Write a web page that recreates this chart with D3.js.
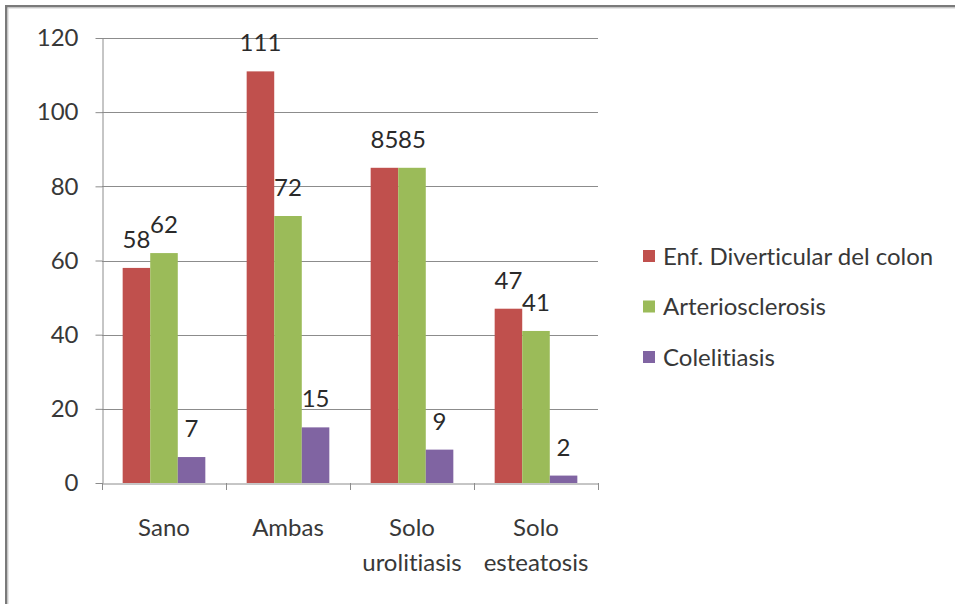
<!DOCTYPE html>
<html>
<head>
<meta charset="utf-8">
<script src="https://cdn.jsdelivr.net/npm/d3@7"></script>
<style>
  html, body { margin: 0; padding: 0; background: #fff; }
  svg { display: block; font-family: Lato, "Noto Sans", sans-serif; font-variant-ligatures: none; }
</style>
</head>
<body>
<svg id="chart" width="955" height="604"></svg>
<script>
// Categories (two-line labels split by "\n")
const categories = ["Sano", "Ambas", "Solo\nurolitiasis", "Solo\nesteatosis"];
const seriesNames = ["Enf. Diverticular del colon", "Arteriosclerosis", "Colelitiasis"];
const seriesColors = ["#C0504D", "#9BBB59", "#8064A2"];
const enfDiverticular = [58, 111, 85, 47];
const arteriosclerosis = [62, 72, 85, 41];
const colelitiasis = [7, 15, 9, 2];
const yTicks = [0, 20, 40, 60, 80, 100, 120];

const seriesValues = [enfDiverticular, arteriosclerosis, colelitiasis];

const svg = d3.select("#chart");
const W = 955, H = 604;
const FONT = "24px";

// frame edges (top and left)
svg.append("rect").attr("x", 5).attr("y", 5).attr("width", W).attr("height", 2.5).attr("fill", "#7a7a7a");
svg.append("rect").attr("x", 5).attr("y", 7.5).attr("width", W).attr("height", 1).attr("fill", "#d0d0d0");
svg.append("rect").attr("x", 5).attr("y", 5).attr("width", 2.5).attr("height", H).attr("fill", "#7a7a7a");
svg.append("rect").attr("x", 7.5).attr("y", 7.5).attr("width", 1).attr("height", H).attr("fill", "#d0d0d0");

const plot = { left: 102, right: 598, top: 38, bottom: 483 };

const x0 = d3.scaleBand()
  .domain(categories)
  .range([plot.left, plot.right])
  .paddingInner(0).paddingOuter(0);

// gap width 150% of a bar: 3 bars + 1.5 bar widths of spacing per category
const x1 = d3.scaleBand()
  .domain(d3.range(seriesNames.length))
  .range([0, x0.bandwidth()])
  .paddingInner(0)
  .paddingOuter(0.75);

const y = d3.scaleLinear().domain([0, 120]).range([plot.bottom, plot.top]);

// horizontal gridlines
svg.append("g")
  .selectAll("line")
  .data(yTicks.filter(d => d > 0))
  .join("line")
  .attr("x1", plot.left).attr("x2", plot.right)
  .attr("y1", d => Math.round(y(d)) + 0.5).attr("y2", d => Math.round(y(d)) + 0.5)
  .attr("stroke", "#8c8c8c").attr("stroke-width", 1);

// y axis
const yAxis = svg.append("g")
  .attr("transform", `translate(${plot.left + 0.5},0)`)
  .call(d3.axisLeft(y).tickValues(yTicks).tickSize(7).tickPadding(17).tickSizeOuter(0));
yAxis.select(".domain").attr("stroke", "#8c8c8c");
yAxis.selectAll(".tick line").attr("stroke", "#8c8c8c");
yAxis.selectAll(".tick text")
  .attr("fill", "#383838")
  .style("font-size", FONT)
  .style("font-family", "Lato, sans-serif");

// bars
const groups = svg.append("g")
  .selectAll("g")
  .data(categories)
  .join("g")
  .attr("transform", d => `translate(${x0(d)},0)`);

groups.selectAll("rect")
  .data((d, i) => seriesValues.map((vals, s) => ({ s, v: vals[i] })))
  .join("rect")
  .attr("x", d => x1(d.s))
  .attr("width", x1.bandwidth())
  .attr("y", d => y(d.v))
  .attr("height", d => y(0) - y(d.v))
  .attr("fill", d => seriesColors[d.s]);

// value labels
groups.selectAll("text.val")
  .data((d, i) => seriesValues.map((vals, s) => ({ s, v: vals[i] })))
  .join("text")
  .attr("class", "val")
  .attr("x", d => x1(d.s) + x1.bandwidth() / 2)
  .attr("y", d => y(d.v) - 20)
  .attr("text-anchor", "middle")
  .attr("fill", "#2a2a2a")
  .style("font-size", FONT)
  .text(d => d.v);

// x axis
const xAxis = svg.append("g")
  .attr("transform", `translate(0,${plot.bottom + 0.5})`)
  .call(d3.axisBottom(x0).tickSize(0).tickFormat(""));
xAxis.select(".domain").attr("stroke", "#8c8c8c");
// category boundary ticks
svg.append("g")
  .selectAll("line")
  .data(d3.range(categories.length + 1))
  .join("line")
  .attr("x1", i => Math.round(plot.left + i * x0.step()) + 0.5)
  .attr("x2", i => Math.round(plot.left + i * x0.step()) + 0.5)
  .attr("y1", plot.bottom).attr("y2", plot.bottom + 7)
  .attr("stroke", "#8c8c8c");

// category labels
svg.append("g")
  .selectAll("text")
  .data(categories)
  .join("text")
  .attr("x", d => x0(d) + x0.bandwidth() / 2)
  .attr("y", 536)
  .attr("text-anchor", "middle")
  .attr("fill", "#383838")
  .style("font-size", FONT)
  .each(function(d) {
    const lines = d.split("\n");
    d3.select(this).selectAll("tspan")
      .data(lines)
      .join("tspan")
      .attr("x", x0(d) + x0.bandwidth() / 2)
      .attr("dy", (l, i) => i === 0 ? 0 : 35)
      .text(l => l);
  });

// legend
const legend = svg.append("g")
  .selectAll("g")
  .data(seriesNames)
  .join("g")
  .attr("transform", (d, i) => `translate(643,${256 + i * 50.5})`);
legend.append("rect")
  .attr("x", 0).attr("y", -6).attr("width", 12).attr("height", 12)
  .attr("fill", (d, i) => seriesColors[i]);
legend.append("text")
  .attr("x", 20).attr("y", 8.5)
  .attr("fill", "#383838")
  .style("font-size", FONT)
  .text(d => d);
</script>
</body>
</html>
